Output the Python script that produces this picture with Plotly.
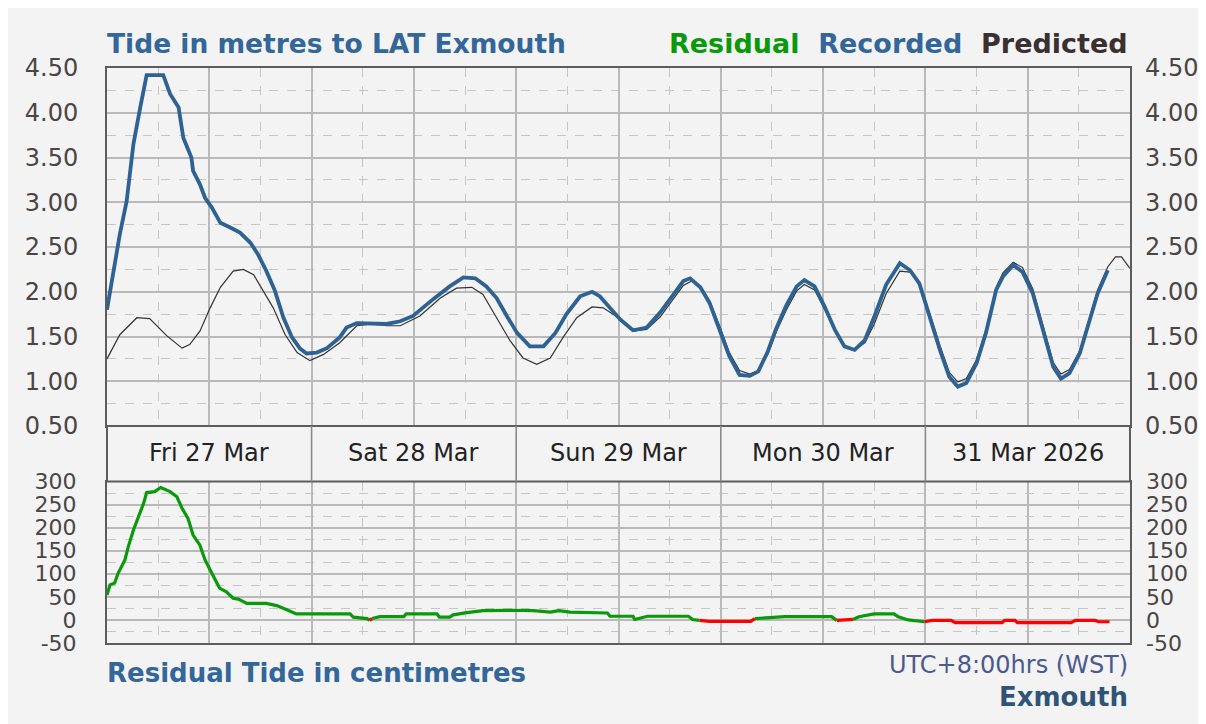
import plotly.graph_objects as go

# ---------------- data (hours from Fri 27 Mar 00:00, local time) ----------------
rec_t = [0, 0.74, 1.5, 2.3, 3.1, 3.9, 4.65, 6.6, 7.4, 8.4, 8.95, 9.9, 10.1, 10.9, 11.5, 12.3,
         13.3, 14.4, 15.6, 16.8, 17.7, 18.7, 19.7, 20.7, 21.7, 22.6, 23.4, 24.6, 25.8, 27.3,
         28.1, 29.3, 31.2, 32.8, 34.4, 35.9, 38.3, 40.2, 41.8, 43.2, 44.5, 45.7, 46.9, 48.1,
         49.6, 51.2, 52.6, 53.9, 55.5, 56.9, 57.8, 59.0, 60.2, 61.7, 63.3, 64.9, 66.4, 67.6,
         68.4, 69.6, 70.7, 71.9, 73.0, 74.2, 75.4, 76.4, 77.5, 78.5, 79.7, 80.9, 81.8, 83.0,
         84.2, 85.4, 86.5, 87.7, 88.9, 90.0, 91.4, 93.0, 94.2, 95.3, 96.5, 97.7, 98.8, 99.8,
         100.8, 102.0, 103.1, 104.3, 105.1, 106.3, 107.4, 108.6, 109.8, 111.0, 111.9, 112.9,
         114.1, 115.3, 116.2, 117.4]
rec_v = [1.80, 2.20, 2.64, 3.01, 3.65, 4.06, 4.42, 4.42, 4.21, 4.06, 3.72, 3.50, 3.35, 3.20, 3.05, 2.94,
         2.77, 2.72, 2.66, 2.55, 2.42, 2.23, 2.01, 1.71, 1.49, 1.37, 1.31, 1.32, 1.37, 1.49,
         1.60, 1.65, 1.65, 1.64, 1.67, 1.73, 1.92, 2.06, 2.16, 2.15, 2.06, 1.93, 1.73, 1.54,
         1.39, 1.39, 1.54, 1.75, 1.95, 2.00, 1.95, 1.82, 1.69, 1.57, 1.60, 1.77, 1.97, 2.12,
         2.15, 2.05, 1.87, 1.57, 1.28, 1.07, 1.06, 1.11, 1.33, 1.59, 1.85, 2.06, 2.13, 2.06,
         1.83, 1.57, 1.39, 1.35, 1.46, 1.72, 2.08, 2.32, 2.24, 2.09, 1.72, 1.35, 1.05, 0.94,
         0.98, 1.20, 1.54, 2.02, 2.17, 2.30, 2.22, 1.98, 1.57, 1.16, 1.03, 1.09,
         1.31, 1.68, 1.98, 2.24]

pred_t = [0, 1.5, 3.5, 5.0, 7.0, 8.8, 9.7, 10.9, 12.1, 13.3, 14.8, 16.0, 17.2, 18.3, 19.5, 20.9,
          22.3, 23.8, 25.4, 27.3, 29.3, 31.2, 32.8, 34.4, 36.7, 39.1, 41.0, 42.8, 44.1, 45.7,
          47.3, 48.8, 50.4, 52.0, 53.5, 55.1, 56.9, 58.2, 59.8, 61.7, 63.3, 64.9, 66.4, 67.6,
          68.6, 69.6, 70.7, 71.9, 73.0, 74.2, 75.4, 76.4, 77.5, 78.5, 79.7, 80.9, 81.8, 83.0,
          84.2, 85.4, 86.5, 87.7, 88.9, 90.0, 91.4, 93.0, 94.2, 95.3, 96.5, 97.7, 98.8, 99.8,
          100.8, 102.0, 103.1, 104.3, 105.1, 106.3, 107.4, 108.6, 109.8, 111.0, 111.9, 112.9,
          114.1, 115.3, 116.2, 117.4, 118.3, 119.0, 120.0]
pred_v = [1.25, 1.52, 1.71, 1.70, 1.51, 1.37, 1.41, 1.56, 1.82, 2.05, 2.23, 2.25, 2.19, 2.01, 1.82, 1.52,
          1.32, 1.23, 1.30, 1.43, 1.62, 1.64, 1.62, 1.62, 1.73, 1.93, 2.04, 2.05, 1.97, 1.71,
          1.45, 1.26, 1.19, 1.26, 1.49, 1.71, 1.83, 1.82, 1.72, 1.56, 1.58, 1.72, 1.92, 2.07,
          2.12, 2.06, 1.90, 1.61, 1.32, 1.12, 1.08, 1.12, 1.30, 1.55, 1.80, 2.01, 2.08, 2.02,
          1.80, 1.57, 1.40, 1.35, 1.43, 1.64, 1.98, 2.23, 2.22, 2.10, 1.76, 1.40, 1.10, 0.99,
          1.03, 1.24, 1.58, 2.05, 2.21, 2.33, 2.27, 2.03, 1.62, 1.21, 1.08, 1.13,
          1.34, 1.72, 2.02, 2.28, 2.39, 2.39, 2.26]

res_t = [0, 0.35, 0.9, 1.3, 2.1, 2.5, 3.1, 3.7, 4.3, 4.65, 5.6, 6.3, 7.4, 8.2, 8.8, 9.5, 10.1,
         10.9, 11.5, 12.3, 13.2, 14.0, 14.8, 15.4, 16.4, 18.7, 19.9, 21.1, 22.2, 28.5, 28.9,
         30.5, 30.8, 31.1, 32.0, 34.8, 35.1, 38.7, 39.0, 40.2, 40.6, 42.2, 44.1, 47.6, 50.0,
         52.0, 53.0, 54.3, 57.8, 58.7, 59.0, 61.7, 61.9, 63.4, 68.2, 68.7, 69.5, 70.7, 75.5,
         76.0, 79.5, 85.0, 85.6, 87.5, 88.2, 90.0, 92.3, 92.8, 94.0, 95.9, 96.8, 99.0, 99.5,
         105.0, 105.3, 106.5, 106.8, 113.1, 113.6, 115.9, 116.3, 117.6]
res_v = [54, 76, 80, 101, 130, 159, 195, 224, 253, 276, 278, 287, 278, 267, 242, 220, 184,
         162, 130, 101, 69, 61, 47, 45, 36, 36, 31, 22, 13, 13, 6,
         3, -1, 3, 7, 7, 13, 13, 6, 6, 11, 16, 20, 21, 20,
         17, 20, 17, 16, 15, 8, 8, 1, 8, 8, 1, -1, -3, -3,
         3, 7, 7, -1, 1, 7, 13, 13, 7, 0, -4, -1, -1, -6,
         -6, -1, -1, -6, -6, -1, -1, -4, -4]

day_labels = ["Fri 27 Mar", "Sat 28 Mar", "Sun 29 Mar", "Mon 30 Mar", "31 Mar 2026"]
day_starts = [0, 24, 48, 72, 96]
tide_ticks = [0.5, 1.0, 1.5, 2.0, 2.5, 3.0, 3.5, 4.0, 4.5]
tide_labels = ["0.50", "1.00", "1.50", "2.00", "2.50", "3.00", "3.50", "4.00", "4.50"]
res_ticks = [-50, 0, 50, 100, 150, 200, 250, 300]
res_labels = ["-50", "0", "50", "100", "150", "200", "250", "300"]

# ---------------- layout geometry (reference pixels; page adds an 8px body margin) ----------------
OFF = 8
W, H = 1206, 724
PL, PR, PT, PB = 107 - OFF, 1130 - OFF, 68 - OFF, 643 - OFF
PH = PB - PT


def py(y):
    return (PB - (y - OFF)) / PH


BG = "#f3f3f3"
GRID = "#b9b9b9"
MINOR = "#c6c6c6"
BORDER = "#5c5c5c"
TICKC = "#4a4545"
FONT = "DejaVu Sans, Verdana, sans-serif"
BLUE = "#2d6293"
GREEN = "#0a990a"
RED = "#ff0000"

fig = go.Figure()

fig.add_trace(go.Scatter(x=pred_t, y=pred_v, mode="lines", line=dict(color="#333333", width=1.2),
                         xaxis="x", yaxis="y", hoverinfo="skip", showlegend=False))
fig.add_trace(go.Scatter(x=rec_t, y=rec_v, mode="lines", line=dict(color=BLUE, width=3.8),
                         xaxis="x", yaxis="y", showlegend=False))
fig.add_trace(go.Scatter(x=[None], y=[None], xaxis="x", yaxis="y3", showlegend=False, hoverinfo="skip"))

# residual: green where >= 0, red where < 0
segs = []
cur_col = None
cur = []
for i in range(len(res_t)):
    col = GREEN if res_v[i] >= 0 else RED
    if cur_col is None:
        cur_col = col
        cur = [i]
    elif col == cur_col:
        cur.append(i)
    else:
        cur.append(i)
        segs.append((cur_col, cur))
        cur_col = col
        cur = [i]
segs.append((cur_col, cur))
for col, idx in segs:
    fig.add_trace(go.Scatter(x=[res_t[j] for j in idx], y=[res_v[j] for j in idx], mode="lines",
                             line=dict(color=col, width=3.2), xaxis="x2", yaxis="y2", showlegend=False))
fig.add_trace(go.Scatter(x=[None], y=[None], xaxis="x2", yaxis="y4", showlegend=False, hoverinfo="skip"))

common_x = dict(range=[0, 120], tick0=0, dtick=12, showticklabels=False, ticks="",
                showgrid=True, gridcolor=GRID, gridwidth=1.6, zeroline=False,
                showline=True, linecolor=BORDER, linewidth=2, mirror=True,
                minor=dict(dtick=6, tick0=0, showgrid=True, gridcolor=MINOR, griddash="dash", gridwidth=1))
tick_font = dict(family=FONT, size=24, color=TICKC)
tick_font_r = dict(family=FONT, size=22, color=TICKC)

ydom_top = [py(426), 1]
ydom_res = [0, py(481.5)]

fig.update_layout(
    width=W, height=H,
    autosize=False,
    margin=dict(l=PL, r=W - PR, t=PT, b=H - PB),
    paper_bgcolor=BG, plot_bgcolor=BG,
    showlegend=False,
    xaxis=dict(common_x, domain=[0, 1], anchor="y"),
    xaxis2=dict(common_x, domain=[0, 1], anchor="y2", matches="x"),
    yaxis=dict(domain=ydom_top, range=[0.5, 4.5], tickvals=tide_ticks, ticktext=tide_labels,
               tickfont=tick_font, ticks="", ticklabelstandoff=22,
               showgrid=True, gridcolor=GRID, gridwidth=1.6, zeroline=False,
               showline=True, linecolor=BORDER, linewidth=2, mirror=True,
               minor=dict(dtick=0.25, tick0=0.5, showgrid=True, gridcolor=MINOR, griddash="dash", gridwidth=1)),
    yaxis3=dict(overlaying="y", side="right", range=[0.5, 4.5], tickvals=tide_ticks, ticktext=tide_labels,
                tickfont=tick_font, ticks="", ticklabelstandoff=14, showgrid=False, zeroline=False),
    yaxis2=dict(domain=ydom_res, range=[-50, 300], tickvals=res_ticks, ticktext=res_labels,
                tickfont=tick_font_r, ticks="", ticklabelstandoff=24,
                showgrid=True, gridcolor=GRID, gridwidth=1.6, zeroline=False,
                showline=True, linecolor=BORDER, linewidth=2, mirror=True,
                minor=dict(dtick=25, tick0=0, showgrid=True, gridcolor=MINOR, griddash="dash", gridwidth=1)),
    yaxis4=dict(overlaying="y2", side="right", range=[-50, 300], tickvals=res_ticks, ticktext=res_labels,
                tickfont=tick_font_r, ticks="", ticklabelstandoff=15, showgrid=False, zeroline=False),
)

shapes = []
# date band
shapes.append(dict(type="rect", xref="paper", yref="paper", x0=0, x1=1, y0=py(481.5), y1=py(426),
                   fillcolor=BG, line=dict(color=BORDER, width=2), layer="above"))
for d in day_starts[1:]:
    shapes.append(dict(type="line", xref="x", yref="paper", x0=d, x1=d, y0=py(481.5), y1=py(426),
                       line=dict(color="#8a8a8a", width=1.6)))
fig.update_layout(shapes=shapes)

ann = []
for lab, d in zip(day_labels, day_starts):
    ann.append(dict(text=lab, x=d + 12, xref="x", y=py(453), yref="paper", showarrow=False,
                    font=dict(family=FONT, size=24, color="#222222"), xanchor="center", yanchor="middle"))
ann.append(dict(text="<b>Tide in metres to LAT Exmouth</b>", x=0, xref="paper", y=py(43), yref="paper",
                showarrow=False, xanchor="left", yanchor="middle", xshift=-2,
                font=dict(family=FONT, size=26.5, color="#336699")))
ann.append(dict(text="<b><span style='color:#0a990a'>Residual</span>&nbsp;&nbsp;"
                     "<span style='color:#336699'>Recorded</span>&nbsp;&nbsp;"
                     "<span style='color:#3a3030'>Predicted</span></b>",
                x=1, xref="paper", y=py(43), yref="paper", showarrow=False, xanchor="right", yanchor="middle",
                font=dict(family=FONT, size=27, color="#333333")))
ann.append(dict(text="<b>Residual Tide in centimetres</b>", x=0, xref="paper", y=py(673), yref="paper",
                showarrow=False, xanchor="left", yanchor="middle", xshift=-2,
                font=dict(family=FONT, size=26, color="#336699")))
ann.append(dict(text="UTC+8:00hrs (WST)", x=1, xref="paper", y=py(665), yref="paper",
                showarrow=False, xanchor="right", yanchor="middle",
                font=dict(family=FONT, size=24, color="#4a5a8e")))
ann.append(dict(text="<b>Exmouth</b>", x=1, xref="paper", y=py(697), yref="paper",
                showarrow=False, xanchor="right", yanchor="middle",
                font=dict(family=FONT, size=26, color="#2f5478")))
fig.update_layout(annotations=ann)

fig.write_html("out.html")
